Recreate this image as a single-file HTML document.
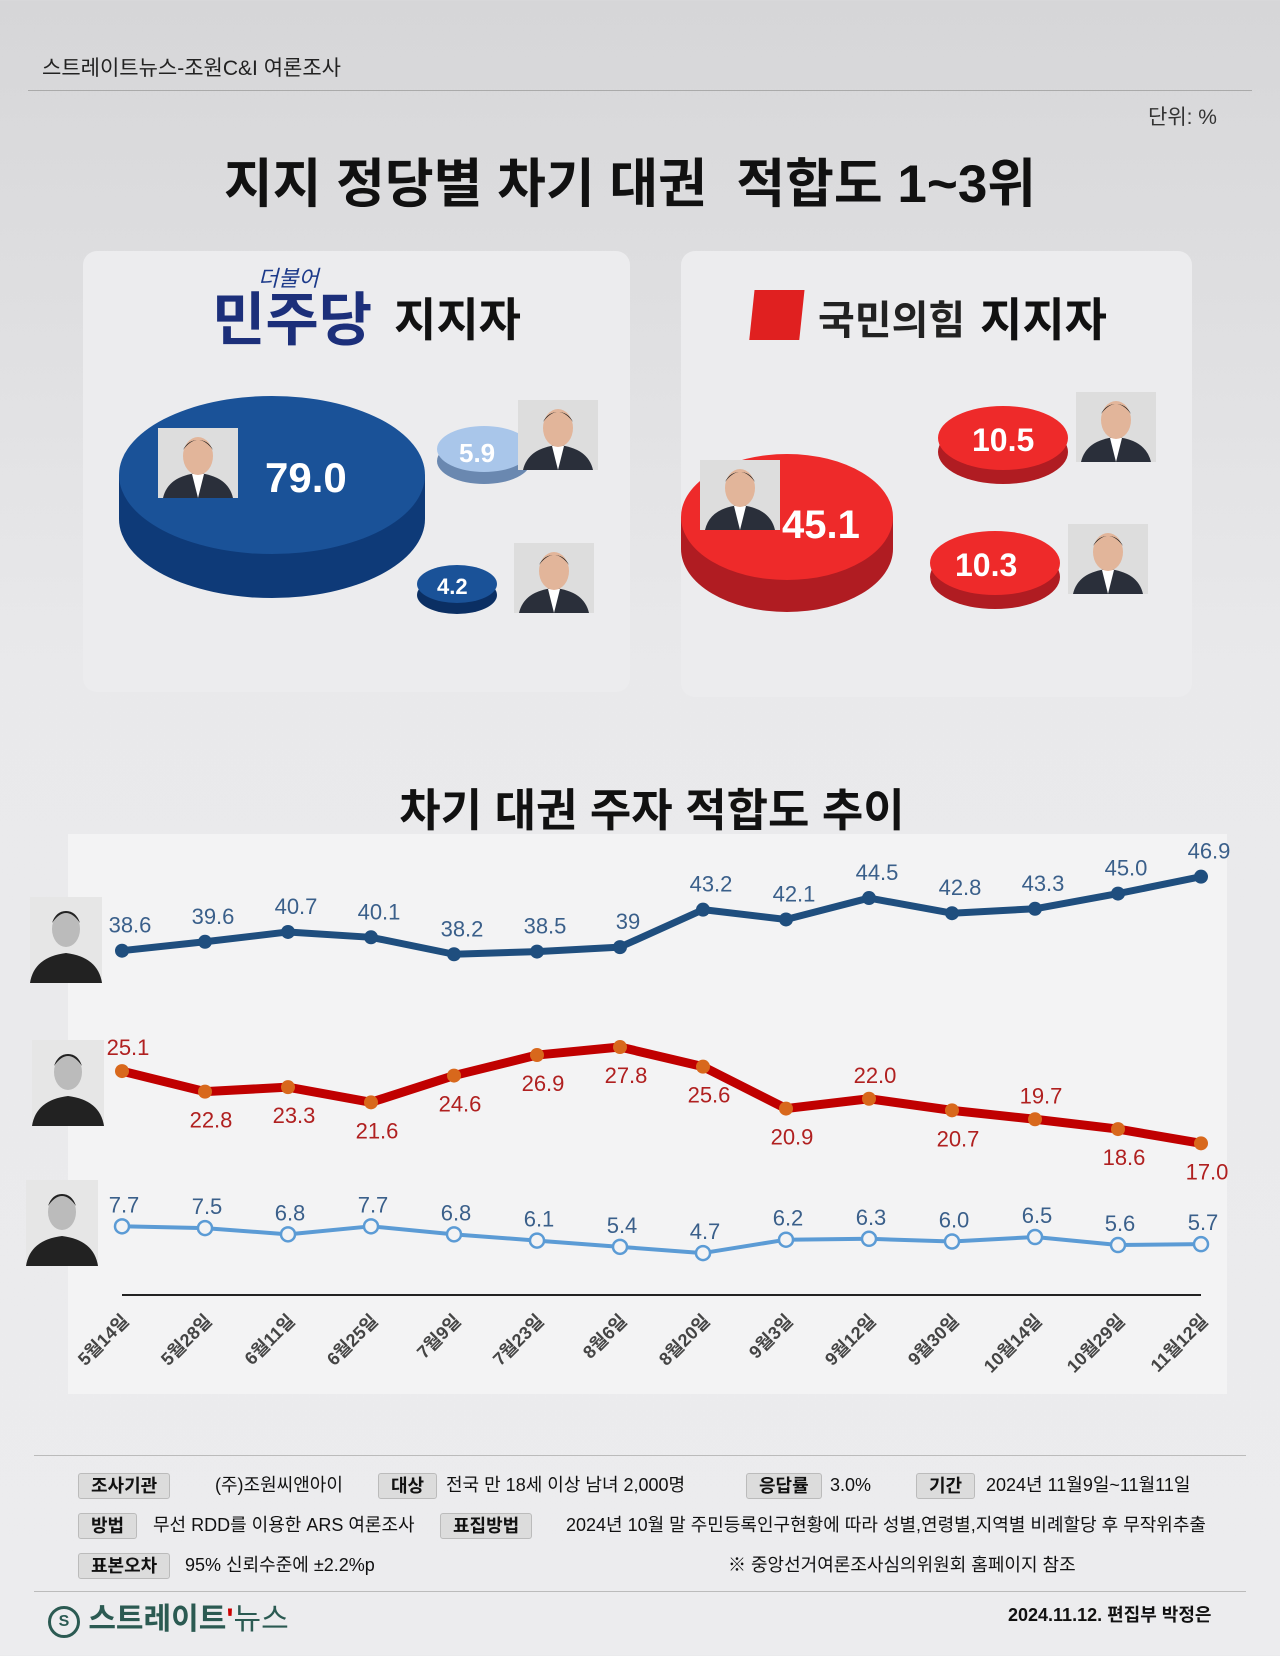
<!DOCTYPE html>
<html><head><meta charset="utf-8">
<style>
body{margin:0;width:1280px;height:1656px;background:linear-gradient(#d6d6d8,#e9e9eb 40%,#ececee);font-family:"Liberation Sans","Noto Sans CJK KR",sans-serif;position:relative;overflow:hidden;color:#111}
.abs{position:absolute}
.card{position:absolute;background:#ececee;border-radius:14px}
.tag{display:inline-block;background:#dcdcdc;border:1px solid #bbb;border-radius:3px;padding:0 12px;line-height:24px;top:8px;font-weight:bold}
</style></head><body>
<div class="abs" style="left:42px;top:52px;font-size:21px;color:#222">스트레이트뉴스-조원C&amp;I 여론조사</div>
<div class="abs" style="left:28px;top:90px;width:1224px;height:1px;background:#aaa"></div>
<div class="abs" style="left:1148px;top:101px;font-size:21px;color:#333">단위: %</div>
<div class="abs" style="left:0;width:1260px;top:142px;text-align:center;font-size:53px;font-weight:bold">지지 정당별 차기 대권&nbsp; 적합도 1~3위</div>

<div class="card" style="left:83px;top:251px;width:547px;height:441px"></div>
<div class="card" style="left:681px;top:251px;width:511px;height:446px"></div>

<svg class="abs" style="left:0;top:0" width="1280" height="760">
 <defs>
  <g id="person"><rect x="0" y="0" width="80" height="70" fill="#ddd"/><path d="M5 70 Q10 48 40 45 Q70 48 75 70Z" fill="#2a2f3a"/><path d="M34 46 L40 70 L46 46Z" fill="#fff"/><ellipse cx="40" cy="28" rx="15" ry="19" fill="#e2b59a"/><path d="M25 22 Q40 2 55 22 Q50 12 40 12 Q30 12 25 22Z" fill="#222"/></g>
 </defs>
 <text x="258" y="286" font-size="22" fill="#1c3a8a" font-style="italic">더불어</text>
 <text x="212" y="340" font-size="58" font-weight="bold" fill="#1c2f7a">민주당</text>
 <text x="394" y="336" font-size="46" font-weight="bold" fill="#111">지지자</text>
 <rect x="785" y="290" width="50" height="50" fill="#e02020" transform="skewX(-6)"/>
 <text x="818" y="334" font-size="40" font-weight="bold" fill="#222">국민의힘</text>
 <text x="980" y="336" font-size="46" font-weight="bold" fill="#111">지지자</text>

 <g><ellipse cx="272" cy="519" rx="153" ry="79" fill="#0e3a78"/><rect x="119" y="475" width="306" height="44" fill="#0e3a78"/><ellipse cx="272" cy="475" rx="153" ry="79" fill="#1a5298"/></g>
 <g transform="translate(158,428)"><use href="#person"/></g>
 <text x="265" y="492" font-size="42" font-weight="bold" fill="#fff">79.0</text>
 <g><ellipse cx="484" cy="461" rx="47" ry="23" fill="#6a88b0"/><ellipse cx="484" cy="449" rx="47" ry="23" fill="#a9c6ea"/></g>
 <text x="459" y="462" font-size="26" font-weight="bold" fill="#fff">5.9</text>
 <g transform="translate(518,400)"><use href="#person"/></g>
 <g><ellipse cx="457" cy="595" rx="40" ry="19" fill="#0b2f63"/><ellipse cx="457" cy="584" rx="40" ry="19" fill="#1a5298"/></g>
 <text x="437" y="594" font-size="22" font-weight="bold" fill="#fff">4.2</text>
 <g transform="translate(514,543)"><use href="#person"/></g>

 <g><ellipse cx="787" cy="549" rx="106" ry="63" fill="#b01c22"/><rect x="681" y="517" width="212" height="32" fill="#b01c22"/><ellipse cx="787" cy="517" rx="106" ry="63" fill="#ee2a2a"/></g>
 <g transform="translate(700,460)"><use href="#person"/></g>
 <text x="782" y="538" font-size="40" font-weight="bold" fill="#fff">45.1</text>
 <g><ellipse cx="1003" cy="452" rx="65" ry="32" fill="#b01c22"/><ellipse cx="1003" cy="438" rx="65" ry="32" fill="#ee2a2a"/></g>
 <text x="972" y="451" font-size="32" font-weight="bold" fill="#fff">10.5</text>
 <g transform="translate(1076,392)"><use href="#person"/></g>
 <g><ellipse cx="995" cy="577" rx="65" ry="32" fill="#b01c22"/><ellipse cx="995" cy="563" rx="65" ry="32" fill="#ee2a2a"/></g>
 <text x="955" y="576" font-size="32" font-weight="bold" fill="#fff">10.3</text>
 <g transform="translate(1068,524)"><use href="#person"/></g>
</svg>

<div class="abs" style="left:0;width:1304px;top:774px;text-align:center;font-size:45px;font-weight:bold">차기 대권 주자 적합도 추이</div>
<div class="abs" style="left:68px;top:834px;width:1159px;height:560px;background:#f3f3f4"></div>
<svg id="chart" class="abs" style="left:0;top:0" width="1280" height="1420"></svg>

<div class="abs" style="left:34px;top:1455px;width:1212px;height:1px;background:#bbb"></div>
<div class="abs" style="left:78px;top:1465px;font-size:18px;line-height:40px;width:1200px">
 <div style="position:relative;height:40px"><span class="tag" style="position:absolute;left:0">조사기관</span><span style="position:absolute;left:137px">(주)조원씨앤아이</span><span class="tag" style="position:absolute;left:300px">대상</span><span style="position:absolute;left:368px">전국 만 18세 이상 남녀 2,000명</span><span class="tag" style="position:absolute;left:668px">응답률</span><span style="position:absolute;left:752px">3.0%</span><span class="tag" style="position:absolute;left:838px">기간</span><span style="position:absolute;left:908px">2024년 11월9일~11월11일</span></div>
 <div style="position:relative;height:40px"><span class="tag" style="position:absolute;left:0">방법</span><span style="position:absolute;left:75px">무선 RDD를 이용한 ARS 여론조사</span><span class="tag" style="position:absolute;left:362px">표집방법</span><span style="position:absolute;left:488px">2024년 10월 말 주민등록인구현황에 따라 성별,연령별,지역별 비례할당 후 무작위추출</span></div>
 <div style="position:relative;height:38px"><span class="tag" style="position:absolute;left:0">표본오차</span><span style="position:absolute;left:107px">95% 신뢰수준에 ±2.2%p</span><span style="position:absolute;left:650px">※ 중앙선거여론조사심의위원회 홈페이지 참조</span></div>
</div>
<div class="abs" style="left:34px;top:1591px;width:1212px;height:1px;background:#bbb"></div>
<div class="abs" style="left:48px;top:1594px;font-size:30px;font-weight:bold;color:#2b5a52"><span style="display:inline-block;width:26px;height:26px;border:3px solid #2b5a52;border-radius:50%;font-size:16px;text-align:center;line-height:26px;vertical-align:3px">S</span> 스트레이트<span style="color:#c00">'</span><span style="font-weight:normal">뉴스</span></div>
<div class="abs" style="left:1008px;top:1601px;font-size:18px;font-weight:bold">2024.11.12. 편집부 박정은</div>

<script>
const dates=["5월14일","5월28일","6월11일","6월25일","7월9일","7월23일","8월6일","8월20일","9월3일","9월12일","9월30일","10월14일","10월29일","11월12일"];
const leeVals=[38.6,39.6,40.7,40.1,38.2,38.5,39,43.2,42.1,44.5,42.8,43.3,45.0,46.9];
const leeLabels=["38.6","39.6","40.7","40.1","38.2","38.5","39","43.2","42.1","44.5","42.8","43.3","45.0","46.9"];
const hanVals=[25.1,22.8,23.3,21.6,24.6,26.9,27.8,25.6,20.9,22.0,20.7,19.7,18.6,17.0];
const hanLabelAbove=[1,0,0,0,0,0,0,0,0,1,0,1,0,0];
const choVals=[7.7,7.5,6.8,7.7,6.8,6.1,5.4,4.7,6.2,6.3,6.0,6.5,5.6,5.7];
const svg=document.getElementById('chart');const NS='http://www.w3.org/2000/svg';
const x=i=>122+i*(1201-122)/(dates.length-1);
const y=v=>1295-v*8.92;
function mk(t,a,p){const e=document.createElementNS(NS,t);for(const k in a)e.setAttribute(k,a[k]);(p||svg).appendChild(e);return e;}
const ax=mk('line',{x1:122,x2:1201,y1:1295,y2:1295,stroke:'#222','stroke-width':2});


dates.forEach((d,i)=>{const t=mk('text',{x:x(i)+8,y:1322,'font-size':18,fill:'#444','font-weight':'bold','text-anchor':'end',transform:`rotate(-45 ${x(i)+8} 1322)`});t.textContent=d;

});
function series(vals,color,w,name,dot){
 const l=mk('polyline',{points:vals.map((v,i)=>x(i)+','+y(v)).join(' '),fill:'none',stroke:color,'stroke-width':w,'stroke-linejoin':'round'});
 
 
 vals.forEach((v,i)=>{const c=mk('circle',dot(x(i),y(v)));
 
 });
}
series(leeVals,'#1f4e7e',7,'lee',(cx,cy)=>({cx,cy,r:7,fill:'#1f4e7e'}));
series(hanVals,'#c00000',9,'han',(cx,cy)=>({cx,cy,r:7,fill:'#d8681c'}));
series(choVals,'#5b9bd5',4,'cho',(cx,cy)=>({cx,cy,r:7,fill:'#f3f3f4',stroke:'#5b9bd5','stroke-width':2.5}));
function lab(tx,xx,yy,col,name){const t=mk('text',{x:xx,y:yy,'font-size':22,fill:col,'text-anchor':'middle'});t.textContent=tx;

}
leeVals.forEach((v,i)=>lab(leeLabels[i],x(i)+8,y(v)-18,'#3a5f8a','lee-value-label'));
hanVals.forEach((v,i)=>lab(v.toFixed(1),x(i)+6,hanLabelAbove[i]?y(v)-16:y(v)+36,'#b02020','han-value-label'));
choVals.forEach((v,i)=>lab(v.toFixed(1),x(i)+2,y(v)-14,'#3a5f8a','cho-value-label'));
const faces=[[30,897,'lee-photo'],[32,1040,'han-photo'],[26,1180,'cho-photo']];
faces.forEach(f=>{const g=mk('g',{transform:`translate(${f[0]},${f[1]})`});


mk('rect',{x:0,y:0,width:72,height:86,fill:'#e6e6e6'},g);
mk('path',{d:'M0 86 Q4 60 36 56 Q68 60 72 86Z',fill:'#222'},g);
mk('ellipse',{cx:36,cy:32,rx:14,ry:18,fill:'#bbb'},g);
mk('path',{d:'M22 26 Q36 6 50 26 Q46 14 36 14 Q26 14 22 26Z',fill:'#222'},g);});
</script>
</body></html>
